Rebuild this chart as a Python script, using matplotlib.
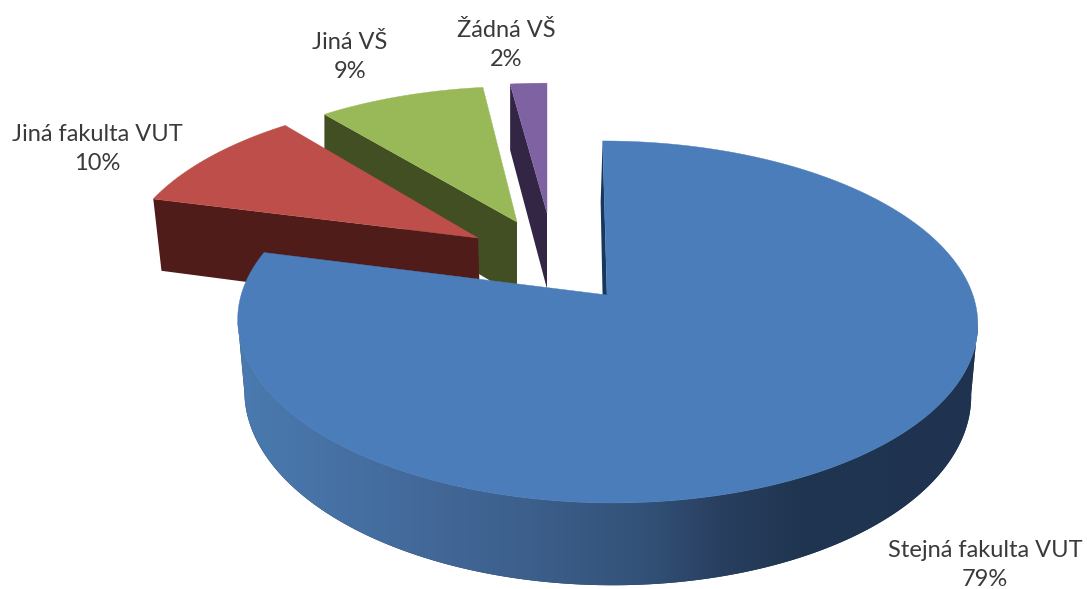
import numpy as np
import matplotlib
matplotlib.use('Agg')
import matplotlib.pyplot as plt
from matplotlib.colors import LinearSegmentedColormap

# Chart data
labels = ['Stejná fakulta VUT', 'Jiná fakulta VUT', 'Jiná VŠ', 'Žádná VŠ']
shares = [79, 10, 9, 2]

plt.rcParams['font.family'] = ['Lato', 'DejaVu Sans']

# Slice look: colours, apex in pixels, squeeze, skew, wall height
top_colors = ['#4a7dba', '#bd4e4a', '#99b958', '#7f62a1']
wall_colors = ['#17375e', '#4f1c19', '#414f22', '#332645']
apex = [(607, 295), (478, 238), (517, 222), (547, 213)]
scale_x = [0.997, 0.955, 0.93, 0.92]
scale_y = [1.0, 0.92, 0.88, 0.843]
skew = [-5, 11, 3.7, 0]
depth = [70, 81, 85, 90]

# Disc projection
RX, RY, PERSP = 367, 177, 0.149
MID_X, SHRINK = 609, 0.982

# Rim shading of the big slice, by screen x
rim_x = np.array([238, 420, 530, 640, 720, 800, 980])
rim_c = ['#4a7ab0', '#43699a', '#3c5f8b', '#335279', '#293f60', '#203550', '#1f3350']
rim_cmap = LinearSegmentedColormap.from_list(
    'rim', list(zip((rim_x - rim_x[0]) / (rim_x[-1] - rim_x[0]), rim_c)))

fig = plt.figure(figsize=(10.87, 5.89), dpi=100)
ax = fig.add_axes([0, 0, 1, 1])


def project(i, angle):
    # angle in degrees, clockwise from 12 o'clock
    u = np.sin(np.radians(angle))
    v = np.cos(np.radians(angle))
    w = 1 + PERSP * v
    x = apex[i][0] + scale_x[i] * RX * u / w + skew[i] * v / w
    y = apex[i][1] - scale_y[i] * RY * v / w
    return x, y, depth[i] * scale_y[i] / w


def lower(x, y, d):
    return MID_X + (x - MID_X) * SHRINK, y + d


ends = np.cumsum(shares) / sum(shares) * 360
starts = np.concatenate([[0], ends[:-1]])


def draw_slice(i):
    ang = np.linspace(starts[i], ends[i], 240)
    x, y, d = project(i, ang)
    px, py = apex[i]
    pd = depth[i] * scale_y[i]
    c = wall_colors[i]

    if i == 0:
        # rim between the left and right extremes of the top face, so the silhouette closes
        lx, ly = lower(x, y, d)
        a, b = np.argmax(x), np.argmin(x) + 1
        rim = ax.fill(np.r_[x[a:b], lx[a:b][::-1]], np.r_[y[a:b], ly[a:b][::-1]],
                      color='#1f3350', lw=0, zorder=5)[0]
        grad = ax.imshow(np.linspace(0, 1, 256)[None, :], cmap=rim_cmap, aspect='auto',
                         extent=[rim_x[0], rim_x[-1], 589, 0], zorder=5.1)
        grad.set_clip_path(rim)
        # cut wall along the 12 o'clock edge
        ax.fill([x[0], px, px - 3, x[0] - 2], [y[0], py, py + pd, y[0] + d[0]],
                color=c, lw=0, zorder=5.2)
        z = 6
    elif i == 1:
        z = 4
        x3, y3 = lower(x[0], y[0], d[0])
        x4, y4 = lower(px, py, pd)
        ax.fill([x[0], px, x4, x3], [y[0], py, y4, y3], color=c, lw=0, zorder=z)
    else:
        z = {2: 2, 3: 1}[i]
        ax.fill([x[0], px, px, x[0]], [y[0], py, py + pd, y[0] + d[0]], color=c, lw=0, zorder=z)

    ax.fill(np.r_[px, x], np.r_[py, y], color=top_colors[i], lw=0.3, zorder=z + 0.5)


for i in range(len(shares)):
    draw_slice(i)

ax.set_xlim(0, 1087)
ax.set_ylim(589, 0)
ax.axis('off')

# Data labels
label_pos = [(985, 565), (97, 149), (350, 57), (506, 45)]
for name, val, (lx, ly) in zip(labels, shares, label_pos):
    ax.text(lx, ly, f'{name}\n{val}%', ha='center', va='center', fontsize=17,
            color='#3a3a3a', linespacing=1.42, zorder=10)

plt.savefig('out.png', dpi=100)
